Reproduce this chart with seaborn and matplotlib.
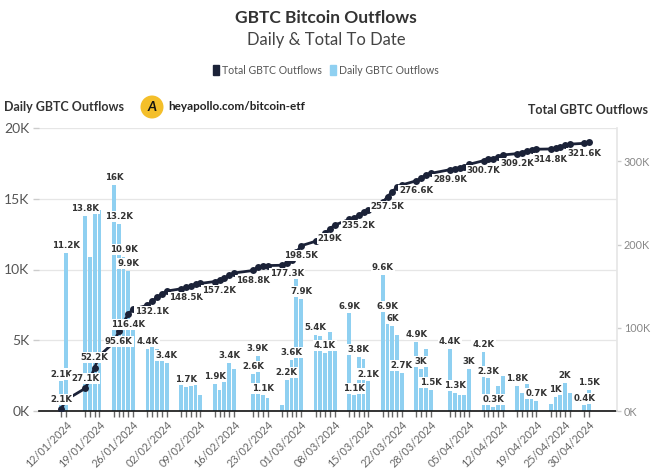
import numpy as np
import pandas as pd
import matplotlib
matplotlib.use("Agg")
import matplotlib.pyplot as plt
import matplotlib.dates as mdates
from matplotlib.patches import Patch, Circle
import seaborn as sns

# Jours de bourse (11/01 -> 30/04/2024)
dates = [
    "2024-01-11", "2024-01-12",
    "2024-01-16", "2024-01-17", "2024-01-18", "2024-01-19",
    "2024-01-22", "2024-01-23", "2024-01-24", "2024-01-25", "2024-01-26",
    "2024-01-29", "2024-01-30", "2024-01-31", "2024-02-01", "2024-02-02",
    "2024-02-05", "2024-02-06", "2024-02-07", "2024-02-08", "2024-02-09",
    "2024-02-12", "2024-02-13", "2024-02-14", "2024-02-15", "2024-02-16",
    "2024-02-20", "2024-02-21", "2024-02-22", "2024-02-23",
    "2024-02-26", "2024-02-27", "2024-02-28", "2024-02-29", "2024-03-01",
    "2024-03-04", "2024-03-05", "2024-03-06", "2024-03-07", "2024-03-08",
    "2024-03-11", "2024-03-12", "2024-03-13", "2024-03-14", "2024-03-15",
    "2024-03-18", "2024-03-19", "2024-03-20", "2024-03-21", "2024-03-22",
    "2024-03-25", "2024-03-26", "2024-03-27", "2024-03-28",
    "2024-04-01", "2024-04-02", "2024-04-03", "2024-04-04", "2024-04-05",
    "2024-04-08", "2024-04-09", "2024-04-10", "2024-04-11", "2024-04-12",
    "2024-04-15", "2024-04-16", "2024-04-17", "2024-04-18", "2024-04-19",
    "2024-04-22", "2024-04-23", "2024-04-24", "2024-04-25", "2024-04-26",
    "2024-04-29", "2024-04-30",
]

# Sorties journalières (milliers de BTC)
daily = [
    2.1, 11.2, 13.8, 10.9, 14.2, 14.2, 16.0, 13.2, 10.9, 9.9,
    6.1, 4.4, 5.2, 4.4, 4.2, 3.4, 2.3, 1.7, 1.8, 1.9,
    1.1, 1.9, 1.5, 2.2, 3.4, 3.0, 2.6, 3.9, 1.1, 0.9,
    0.4, 2.2, 3.6, 9.7, 7.9, 5.4, 5.3, 4.1, 5.6, 4.3,
    6.9, 1.1, 3.8, 3.7, 2.1, 9.6, 6.9, 6.0, 5.4, 2.7,
    4.9, 3.0, 4.4, 1.5, 4.4, 1.3, 1.1, 1.1, 3.0, 4.2,
    2.3, 0.3, 1.8, 2.5, 1.8, 1.3, 1.9, 1.4, 0.7, 0.5,
    1.0, 1.5, 2.0, 1.3, 0.4, 1.5,
]

# Total cumulé (milliers de BTC)
total = [
    2.1, 13.3, 27.1, 38.0, 52.2, 66.4, 82.4, 95.6, 106.5, 116.4,
    122.5, 126.9, 132.1, 136.5, 140.7, 144.1, 146.8, 148.5, 150.3, 152.2,
    153.3, 155.5, 157.2, 159.4, 162.8, 165.8, 168.8, 172.7, 173.8, 174.7,
    175.1, 177.3, 180.9, 190.6, 198.5, 203.9, 209.2, 213.3, 219.0, 223.3,
    230.2, 231.3, 235.2, 238.9, 241.0, 250.6, 257.5, 263.5, 268.9, 271.6,
    276.6, 279.6, 284.0, 285.5, 289.9, 291.2, 292.3, 293.4, 296.4, 300.7,
    303.0, 303.3, 305.1, 307.6, 309.2, 310.5, 312.4, 313.8, 314.5, 314.8,
    315.8, 317.3, 319.3, 320.6, 321.6, 323.1,
]

# Points étiquetés
daily_label_idx = [0, 1, 2, 6, 7, 8, 9, 11, 15, 17, 21, 24, 26, 27, 28, 31, 32, 34,
                   35, 37, 40, 41, 42, 44, 45, 46, 47, 49, 50, 51, 53, 54, 55, 58,
                   59, 60, 61, 64, 68, 70, 72, 74, 75]
total_label_idx = [0, 2, 4, 7, 9, 12, 17, 22, 26, 31, 34, 38, 42, 46, 50, 54, 59, 64, 69, 74]
total_label_above = [0, 2, 4]

tick_dates = ["2024-01-12", "2024-01-19", "2024-01-26", "2024-02-02", "2024-02-09",
              "2024-02-16", "2024-02-23", "2024-03-01", "2024-03-08", "2024-03-15",
              "2024-03-22", "2024-03-28", "2024-04-05", "2024-04-12", "2024-04-19",
              "2024-04-25", "2024-04-30"]

left_ticks = [0, 5, 10, 15, 20]
right_ticks = [0, 100, 200, 300]

BLUE = "#8fd0f1"
NAVY = "#1b2238"
TXT = "#333333"


def fmt_k(v):
    s = f"{v:.1f}"
    if s.endswith(".0"):
        s = s[:-2]
    return s + "K"


df = pd.DataFrame({"date": pd.to_datetime(dates), "daily": daily, "total": total})
df["x"] = mdates.date2num(df["date"])

sns.set_theme(style="white")
plt.rcParams["font.family"] = ["Lato", "DejaVu Sans"]

fig = plt.figure(figsize=(6.52, 4.75), dpi=100)
ax = fig.add_axes([39 / 652, 1 - 411 / 475, 578 / 652, 283 / 475])

sns.barplot(data=df, x="x", y="daily", native_scale=True, width=0.78,
            color=BLUE, saturation=1, errorbar=None, linewidth=0, ax=ax, zorder=2)

ax.set_ylim(0, 20)
ax.set_xlim(df["x"].iloc[0] - 4.6, df["x"].iloc[-1] + 5.8)
ax.set_yticks(left_ticks)
ax.set_yticklabels([f"{t}K" for t in left_ticks])
ax.yaxis.grid(True, color="#e6e6e6", lw=0.9)
ax.set_axisbelow(True)
ax.set_xlabel("")
ax.set_ylabel("")

# ticks à chaque jour de bourse, libellés hebdomadaires
tick_set = set(tick_dates)
ax.set_xticks(df["x"])
ax.set_xticklabels([d.strftime("%d/%m/%Y") if d.strftime("%Y-%m-%d") in tick_set else ""
                    for d in df["date"]],
                   rotation=45, ha="right", rotation_mode="anchor")
ax.tick_params(axis="x", length=4, width=1, color="#666666", labelsize=7.8,
               labelcolor="#666666", pad=2, bottom=True)
ax.tick_params(axis="y", length=4, width=1, color="#cccccc", labelsize=10,
               labelcolor="#555555", pad=3, left=True)

for side in ["left", "top", "right"]:
    ax.spines[side].set_visible(False)
ax.spines["bottom"].set_color("#111111")
ax.spines["bottom"].set_linewidth(1.2)

for i in daily_label_idx:
    ax.annotate(fmt_k(daily[i]), (df["x"].iloc[i], daily[i]), xytext=(0, 2),
                textcoords="offset points", ha="center", va="bottom",
                fontsize=6.2, fontweight="bold", color=TXT, family="DejaVu Sans",
                bbox=dict(boxstyle="square,pad=0.12", fc="white", ec="none"), zorder=5)

# courbe cumulée sur l'axe de droite
ax2 = ax.twinx()
sns.lineplot(data=df, x="x", y="total", ax=ax2, color=NAVY, linewidth=2,
             marker="o", markersize=5, markeredgewidth=0, zorder=3)
ax2.set_ylim(0, 340)
ax2.set_yticks(right_ticks)
ax2.set_yticklabels([f"{t}K" for t in right_ticks])
ax2.set_xlabel("")
ax2.set_ylabel("")
ax2.tick_params(axis="y", length=3, width=1, color="#cccccc", labelsize=7.8,
                labelcolor="#888888", pad=2, right=True)
for side in ["left", "top", "bottom"]:
    ax2.spines[side].set_visible(False)
ax2.spines["right"].set_color("#e6e6e6")

for i in total_label_idx:
    above = i in total_label_above
    ax2.annotate(fmt_k(total[i]), (df["x"].iloc[i], total[i]),
                 xytext=(0, 4 if above else -4), textcoords="offset points",
                 ha="center", va="bottom" if above else "top",
                 fontsize=6.2, fontweight="bold", color=TXT, family="DejaVu Sans",
                 bbox=dict(boxstyle="square,pad=0.12", fc="white", ec="none"), zorder=6)

# titres
fig.text(0.5, 1 - 18 / 475, "GBTC Bitcoin Outflows", ha="center", va="center",
         fontsize=12.5, fontweight="bold", color=TXT)
fig.text(0.5, 1 - 40 / 475, "Daily & Total To Date", ha="center", va="center",
         fontsize=12, color="#444444")

fig.legend(handles=[Patch(color=NAVY, label="Total GBTC Outflows"),
                    Patch(color=BLUE, label="Daily GBTC Outflows")],
           loc="center", bbox_to_anchor=(0.5, 1 - 70 / 475), ncol=2, frameon=False,
           handlelength=0.6, handleheight=1.2, handletextpad=0.3, columnspacing=0.7,
           fontsize=7.6, labelcolor="#555555")

fig.text(4 / 652, 1 - 107 / 475, "Daily GBTC Outflows", ha="left", va="center",
         fontsize=9, fontweight="bold", color=TXT)
fig.text(648 / 652, 1 - 110 / 475, "Total GBTC Outflows", ha="right", va="center",
         fontsize=9, fontweight="bold", color=TXT)

# logo + site
fig.add_artist(Circle((152 / 100, (475 - 107) / 100), 0.115, transform=fig.dpi_scale_trans,
                      fc="#f4bf2a", ec="none"))
fig.text(152 / 652, 1 - 107 / 475, "A", ha="center", va="center", fontsize=10,
         fontweight="bold", color="#111111", style="italic")
fig.text(168 / 652, 1 - 107 / 475, "heyapollo.com/bitcoin-etf", ha="left", va="center",
         fontsize=8.5, fontweight="bold", color="#222222")

fig.savefig("out.png", dpi=100)
